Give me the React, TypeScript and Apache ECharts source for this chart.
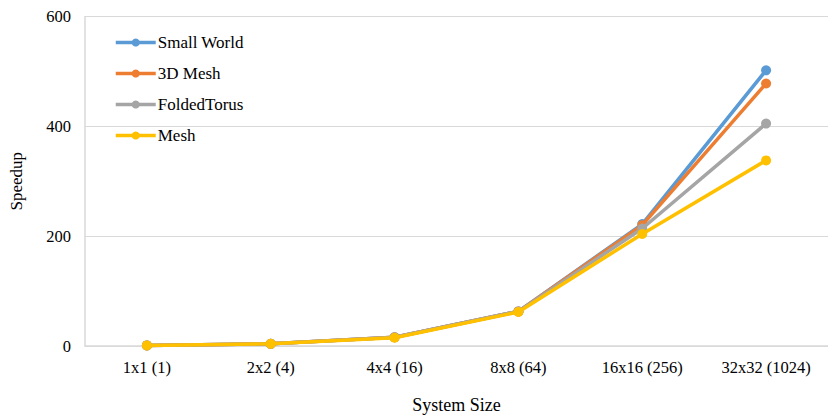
import React, { useEffect, useRef } from "react";
import * as echarts from "echarts";

const categories = ["1x1 (1)", "2x2 (4)", "4x4 (16)", "8x8 (64)", "16x16 (256)", "32x32 (1024)"];
const smallWorld = [1, 4, 16, 63, 222, 502];
const mesh3d = [1, 4, 16, 63, 220, 478];
const foldedTorus = [1, 4, 16, 63, 214, 405];
const mesh = [1, 4, 15, 62, 204, 338];
const seriesNames = ["Small World", "3D Mesh", "FoldedTorus", "Mesh"];
const colors = ["#5B9BD5", "#ED7D31", "#A5A5A5", "#FFC000"];

export default function App() {
  const ref = useRef<HTMLDivElement>(null);
  useEffect(() => {
    document.body.style.margin = "0";
    const chart = echarts.init(ref.current!, null, { renderer: "svg" });
    const font = "Liberation Serif";
    const data = [smallWorld, mesh3d, foldedTorus, mesh];
    chart.setOption({
      animation: false,
      legend: {
        orient: "vertical",
        left: 109,
        top: 29,
        itemWidth: 40,
        itemHeight: 10,
        itemGap: 14,
        lineStyle: { width: 3.5 },
        textStyle: { fontFamily: font, fontSize: 17, color: "#000", padding: [0, 0, 0, -3] },
        data: seriesNames,
      },
      grid: { left: 85, top: 16.5, width: 753, height: 330.5 },
      xAxis: {
        type: "category",
        data: categories,
        boundaryGap: true,
        name: "System Size",
        nameLocation: "middle",
        nameGap: 50,
        nameTextStyle: { fontFamily: font, fontSize: 18, color: "#000" },
        axisLine: { lineStyle: { color: "#d9d9d9", width: 1.5 } },
        axisTick: { show: false },
        axisLabel: { fontFamily: font, fontSize: 16.5, color: "#000", margin: 13 },
      },
      yAxis: {
        type: "value",
        min: 0,
        max: 600,
        interval: 200,
        name: "Speedup",
        nameLocation: "middle",
        nameGap: 60,
        nameTextStyle: { fontFamily: font, fontSize: 17, color: "#000" },
        axisLine: { show: true, lineStyle: { color: "#d9d9d9", width: 1.5 } },
        axisTick: { show: false },
        axisLabel: { fontFamily: font, fontSize: 16.5, color: "#000", margin: 14 },
        splitLine: { lineStyle: { color: "#d9d9d9", width: 1 } },
      },
      series: seriesNames.map((name, i) => ({
        name,
        type: "line",
        data: data[i],
        symbol: "circle",
        symbolSize: 10,
        itemStyle: { color: colors[i] },
        lineStyle: { color: colors[i], width: 3.5 },
        z: 2 + i,
      })),
    });
    return () => chart.dispose();
  }, []);
  return (
    <div style={{ fontFamily: "Liberation Serif" }}>
      <div ref={ref} style={{ width: 828, height: 419 }} />
    </div>
  );
}
